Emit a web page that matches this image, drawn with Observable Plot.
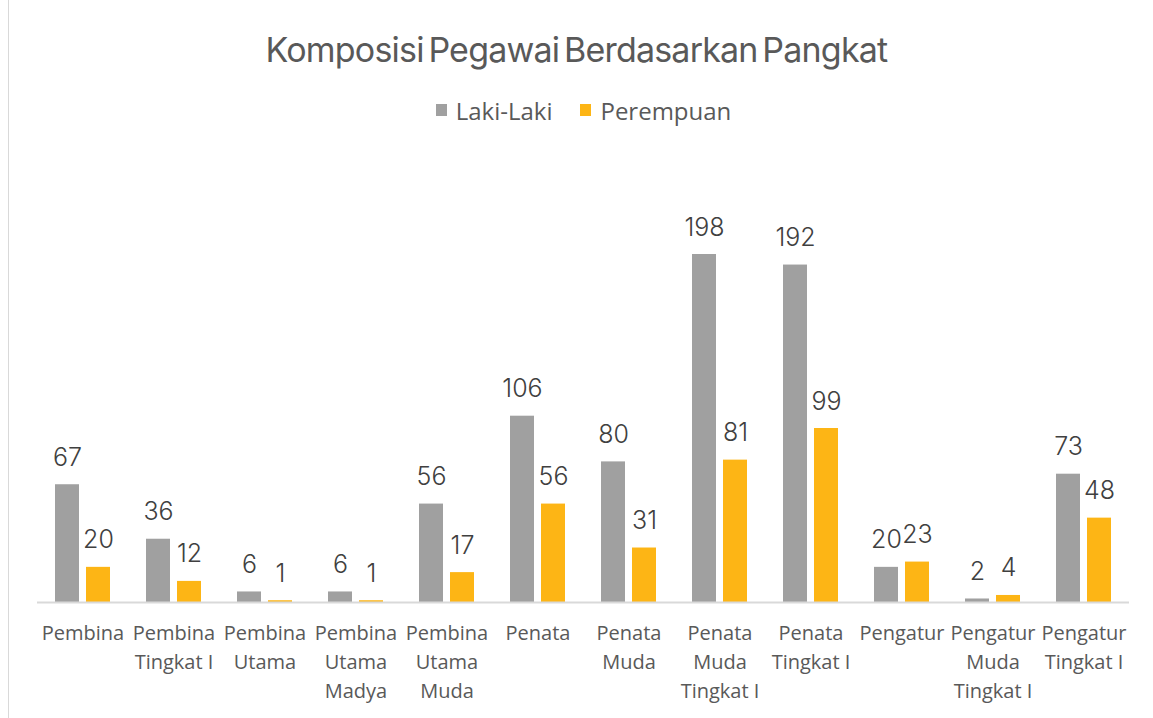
<!DOCTYPE html>
<html>
<head>
<meta charset="utf-8">
<script src="https://cdn.jsdelivr.net/npm/d3@7"></script>
<script src="https://cdn.jsdelivr.net/npm/@observablehq/plot@0.6"></script>
<style>
  html, body { margin: 0; padding: 0; background: #fff; }
  #wrap { position: relative; width: 1153px; height: 718px; overflow: hidden; }
  #border { position: absolute; left: 8px; top: 0; width: 0; height: 718px; border-left: 1.5px solid #d9d9d9; }
  #title { height: 84px; box-sizing: border-box; padding-top: 28px; text-align: center;
    font-family: Inter, sans-serif; font-size: 34px; color: #595959; letter-spacing: -0.8px; word-spacing: -4px; line-height: 44px; }
  #legend { height: 46px; display: flex; justify-content: center; align-items: center; gap: 28px;
    font-family: "Open Sans", sans-serif; font-size: 24px; color: #595959; padding-left: 14px; box-sizing: border-box; padding-top: 6px; }
  .item { display: flex; align-items: center; gap: 9px; }
  .sw { width: 11px; height: 12px; display: inline-block; }
</style>
</head>
<body>
<div id="wrap">
  <div id="border"></div>
  <div id="title"></div>
  <div id="legend"></div>
  <div id="chart"></div>
</div>
<script>
const title = "Komposisi Pegawai Berdasarkan Pangkat";
const categories = [
  "Pembina", "Pembina Tingkat I", "Pembina Utama", "Pembina Utama Madya",
  "Pembina Utama Muda", "Penata", "Penata Muda", "Penata Muda Tingkat I",
  "Penata Tingkat I", "Pengatur", "Pengatur Muda Tingkat I", "Pengatur Tingkat I"
];
const categoryLabels = [
  "Pembina", "Pembina\nTingkat I", "Pembina\nUtama", "Pembina\nUtama\nMadya",
  "Pembina\nUtama\nMuda", "Penata", "Penata\nMuda", "Penata\nMuda\nTingkat I",
  "Penata\nTingkat I", "Pengatur", "Pengatur\nMuda\nTingkat I", "Pengatur\nTingkat I"
];
const seriesNames = ["Laki-Laki", "Perempuan"];
const lakiLaki = [67, 36, 6, 6, 56, 106, 80, 198, 192, 20, 2, 73];
const perempuan = [20, 12, 1, 1, 17, 56, 31, 81, 99, 23, 4, 48];
const colors = ["#a0a0a0", "#fdb515"];

document.getElementById("title").textContent = title;
const legend = document.getElementById("legend");
seriesNames.forEach((s, i) => {
  const it = document.createElement("div");
  it.className = "item";
  it.innerHTML = `<span class="sw" style="background:${colors[i]}"></span><span>${s}</span>`;
  legend.appendChild(it);
});

const data = [];
categories.forEach((c, i) => {
  data.push({category: c, series: seriesNames[0], value: lakiLaki[i]});
  data.push({category: c, series: seriesNames[1], value: perempuan[i]});
});
const labelOf = new Map(categories.map((c, i) => [c, categoryLabels[i]]));

const chart = Plot.plot({
  width: 1153,
  height: 588,
  marginLeft: 37,
  marginRight: 24,
  marginTop: 124,
  marginBottom: 116,
  style: {background: "transparent", overflow: "visible"},
  fx: {domain: categories, padding: 0, label: null},
  x: {domain: seriesNames, paddingInner: 0.226, paddingOuter: 0.58, axis: null},
  y: {domain: [0, 198], axis: null},
  color: {domain: seriesNames, range: colors},
  marks: [
    Plot.barY(data, {fx: "category", x: "series", y: "value", fill: "series"}),
    Plot.ruleY([0], {stroke: "#d9d9d9", strokeWidth: 2}),
    Plot.text(data, {
      fx: "category", x: "series", y: "value", text: d => String(d.value),
      lineAnchor: "bottom", dy: -19, fontSize: 25, fontWeight: 300, fill: "#404040",
      fontFamily: "Inter, sans-serif"
    }),
    Plot.axisFx({
      anchor: "bottom", tickSize: 0, tickPadding: 17, label: null,
      tickFormat: c => labelOf.get(c), fontSize: 20, lineHeight: 1.45,
      fontFamily: "'Open Sans', sans-serif", fill: "#595959"
    })
  ]
});
document.getElementById("chart").appendChild(chart);
</script>
</body>
</html>
